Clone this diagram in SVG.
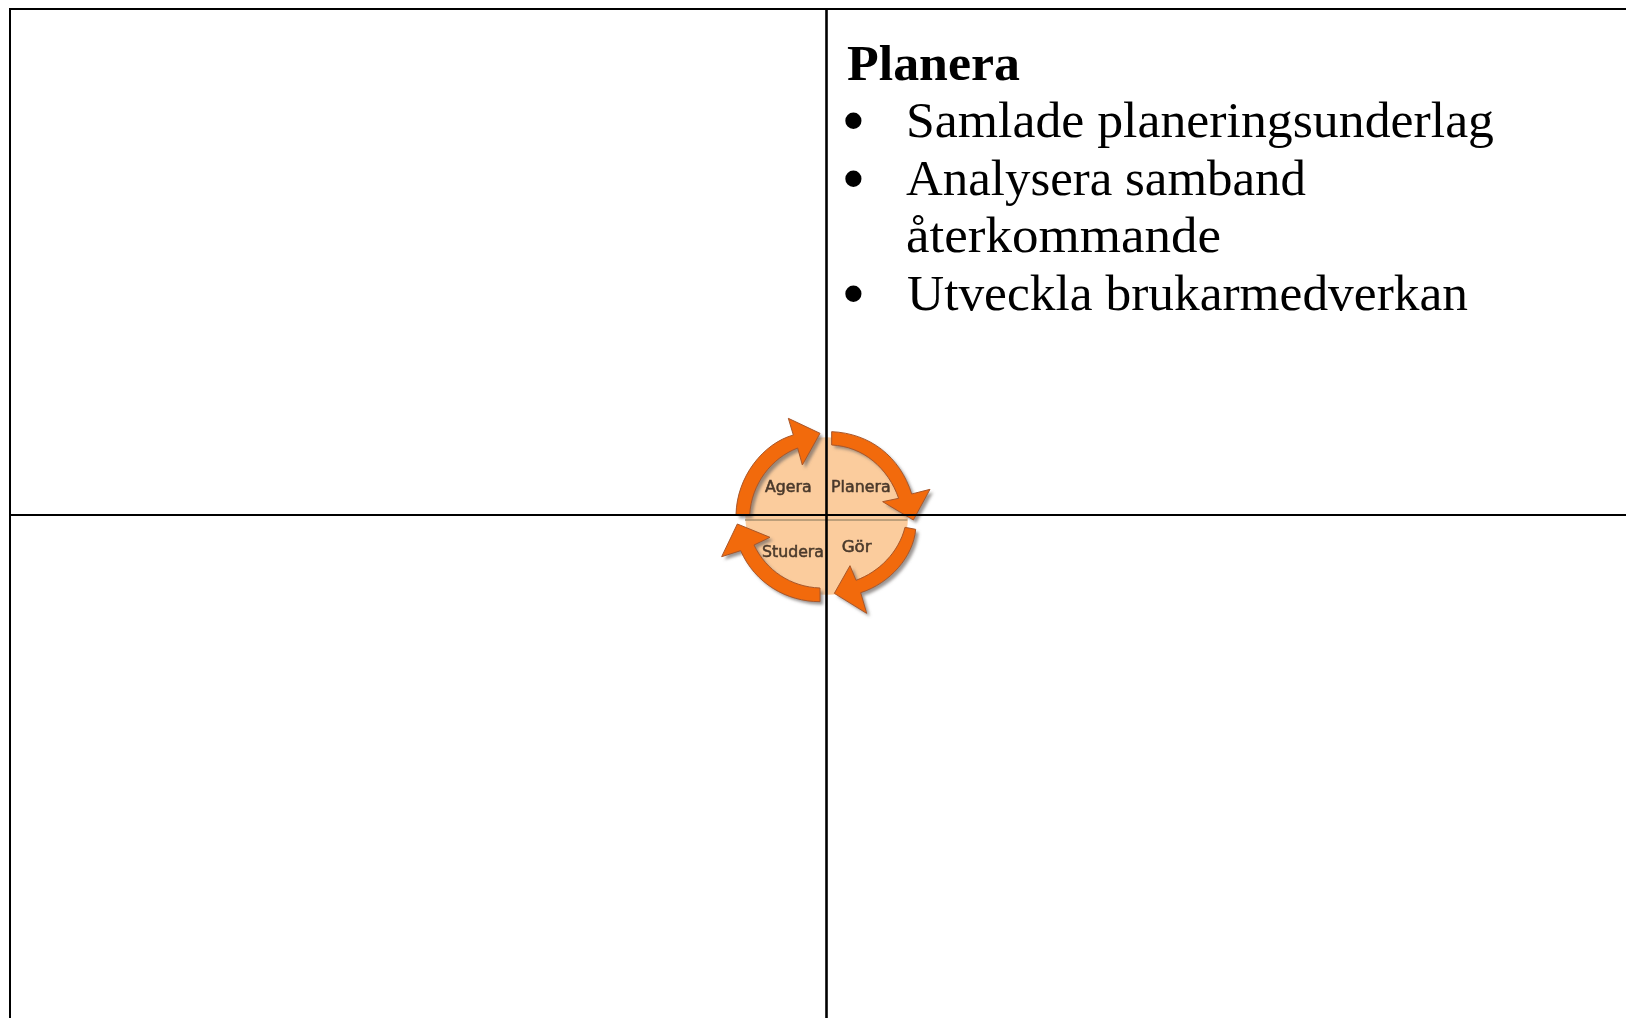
<svg xmlns="http://www.w3.org/2000/svg" width="1626" height="1018" viewBox="0 0 1626 1018">
  <style>
    .rule{stroke:#000;stroke-width:2;fill:none}
    .thick{stroke-width:2.6}
    .t{font-family:"Liberation Serif","Times New Roman",serif;font-size:51px;fill:#000}
    .b{font-weight:bold}
    .dot{font-family:"DejaVu Sans",sans-serif;font-size:42px;fill:#000;stroke:#000;stroke-width:4}
    .arrow{fill:#f26a0c;stroke:#a8562a;stroke-width:3;stroke-linejoin:miter}
    .shadow{fill:#6f6a66;opacity:.7}
    .lab{font-family:"DejaVu Sans",Verdana,sans-serif;font-size:47px;fill:#4a3a2c;stroke:#4a3a2c;stroke-width:1.6}
  </style>
  <defs>
    <filter id="soft" x="-20%" y="-20%" width="140%" height="140%"><feGaussianBlur stdDeviation="4"/></filter>
    <filter id="slight" x="-5%" y="-20%" width="110%" height="140%"><feGaussianBlur stdDeviation="0.9"/></filter>
    <path id="aP" d="M395 95C510 100 600 170 635 282L690 268L640 360L548 305L596 295C565 205 490 139 395 135Z"/>
    <path id="aG" d="M647 388C640 470 570 550 482 578L500 640L403 580L450 497L468 541C536 516 596 458 615 382Z"/>
    <path id="aS" d="M360 605C260 605 165 550 122 452L65 470L112 372L210 412L162 435C198 511 272 561 360 564Z"/>
    <path id="aA" d="M108 345C110 230 190 130 280 105L265 55L360 100L307 195L293 144C214 174 154 252 149 345Z"/>
  </defs>
  <rect width="1626" height="1018" fill="#fff"/>
  <g id="cycle" transform="translate(700 400) scale(.33333)">
    <g id="disc">
      <ellipse cx="380" cy="348" rx="244" ry="236" fill="#fbcc9d"/>
      <path d="M135 360H622" stroke="#a9916f" stroke-width="5" fill="none"/>
    </g>
    <g id="shadows" transform="translate(9 9)" filter="url(#soft)">
      <use href="#aP" class="shadow"/><use href="#aG" class="shadow"/><use href="#aS" class="shadow"/><use href="#aA" class="shadow"/>
    </g>
    <g id="node-planera"><use href="#aP" class="arrow"/><text class="lab" x="393" y="277" textLength="179" lengthAdjust="spacingAndGlyphs" filter="url(#slight)">Planera</text></g>
    <g id="node-gor"><use href="#aG" class="arrow"/><text class="lab" x="425" y="457" textLength="90" lengthAdjust="spacingAndGlyphs" filter="url(#slight)">Gör</text></g>
    <g id="node-studera"><use href="#aS" class="arrow"/><text class="lab" x="186" y="472" textLength="186" lengthAdjust="spacingAndGlyphs" filter="url(#slight)">Studera</text></g>
    <g id="node-agera"><use href="#aA" class="arrow"/><text class="lab" x="195" y="277" textLength="140" lengthAdjust="spacingAndGlyphs" filter="url(#slight)">Agera</text></g>
  </g>
  <g id="connectors">
    <path class="rule" d="M10 1018V9H1626"/>
    <path class="rule thick" d="M826.5 9V1018"/>
    <path class="rule" d="M10 515H1626"/>
  </g>
  <g id="planera-text">
    <text class="t b" x="847" y="80" textLength="173" lengthAdjust="spacingAndGlyphs">Planera</text>
    <text class="dot" x="841" y="137">•</text>
    <text class="t" x="906" y="137" textLength="588" lengthAdjust="spacingAndGlyphs">Samlade planeringsunderlag</text>
    <text class="dot" x="841" y="195">•</text>
    <text class="t" x="906" y="195" textLength="400" lengthAdjust="spacingAndGlyphs">Analysera samband</text>
    <text class="t" x="906" y="252" textLength="315" lengthAdjust="spacingAndGlyphs">återkommande</text>
    <text class="dot" x="841" y="310">•</text>
    <text class="t" x="907" y="310" textLength="561" lengthAdjust="spacingAndGlyphs">Utveckla brukarmedverkan</text>
  </g>
</svg>
